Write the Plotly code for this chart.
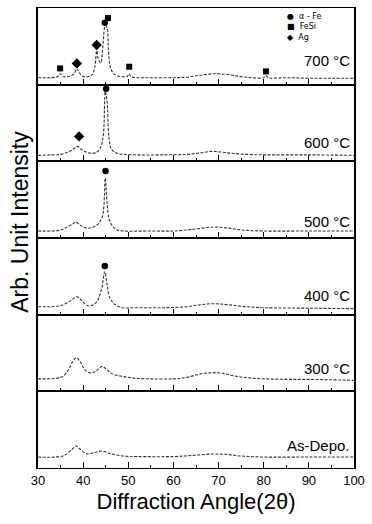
import plotly.graph_objects as go
from plotly.subplots import make_subplots

# ---- data (2theta, intensity in arbitrary units) ----
labels = ["700 °C", "600 °C", "500 °C", "400 °C", "300 °C", "As-Depo."]

x700 = [30, 33, 34.3, 35.0, 35.7, 37, 38.0, 38.6, 39.3, 40.2, 41, 42, 42.6, 43.0, 43.4, 43.9, 44.4, 44.9, 45.3, 45.6, 46.0, 46.6, 47.5, 49, 49.8, 50.2, 50.6, 52, 55, 60, 63, 66, 69.5, 73, 76, 80, 80.5, 81, 85, 90, 95, 100]
y700 = [7, 7, 8, 11, 8, 8.5, 11, 16, 11, 8, 8, 10, 18, 34, 25, 22, 40, 59, 57, 35, 18, 12, 9, 8, 8.5, 11, 8, 7, 7, 7, 7.5, 9.5, 11, 9.5, 7.5, 7, 9, 7, 7, 6.5, 6.5, 6.5]

x600 = [30, 33, 35, 36.5, 37.8, 38.7, 39.6, 40.8, 41.9, 43, 43.9, 44.5, 44.9, 45.3, 45.7, 46.3, 47.5, 49, 52, 58, 63, 66, 68.7, 72, 76, 80, 90, 100]
y600 = [6, 6.5, 7, 9, 12, 15, 12, 9, 8, 9, 14, 28, 70, 60, 25, 12, 8, 7, 6.5, 6.5, 7, 8.5, 10, 8.5, 7, 6.5, 6.5, 6]

x500 = [30, 33, 35, 36.5, 37.7, 38.4, 39.3, 40.7, 42, 43.3, 44.3, 44.9, 45.3, 45.8, 46.5, 47.5, 49, 55, 60, 64, 69, 72, 75, 80, 90, 100]
y500 = [7, 7, 8, 11, 14, 16, 13, 10, 10.5, 14, 22, 60, 35, 18, 12, 8, 7, 7, 7, 8.5, 11, 10, 8, 7, 7, 7]

x400 = [30, 33, 35, 36.5, 37.8, 38.6, 39.5, 40.3, 41.1, 42.3, 43.3, 44.1, 44.8, 45.3, 45.9, 47.1, 48.7, 52, 58, 63, 66, 69, 72, 76, 80, 90, 100]
y400 = [8, 8, 9, 12, 16, 18, 15, 11, 9, 10, 15, 26, 43, 30, 17, 10, 7, 7, 7, 8, 10, 11, 10, 8, 7, 6.5, 6]

x300 = [30, 34, 35.5, 36.8, 37.7, 38.5, 39.3, 40.3, 41.6, 42.8, 44.2, 45.2, 46.2, 47.5, 50, 52, 55, 60, 63, 66, 68.7, 71, 74, 78, 85, 90, 100]
y300 = [12.5, 13, 15, 22, 30, 33.7, 30, 22, 18.5, 20, 25, 22, 18, 16, 14, 13, 12.5, 12.5, 14, 17.5, 18.7, 18, 15, 13, 12, 12, 11]

xdep = [30, 34, 36, 37.6, 38.4, 39.3, 40.9, 42.5, 44.2, 46, 48.9, 52, 60, 64, 68.7, 72, 75, 80, 90, 100]
ydep = [11, 11, 13, 19, 22, 19, 14, 15.5, 17, 14.5, 12, 11.5, 11.5, 12.5, 14, 13.5, 12, 11, 11, 11]

curves = [(x700, y700), (x600, y600), (x500, y500), (x400, y400), (x300, y300), (xdep, ydep)]

# phase markers: (panel index, 2theta, intensity)
fe_pts = [(0, 44.8, 62), (1, 45.1, 72.7), (2, 44.95, 67), (3, 44.8, 48.7)]
fesi_pts = [(0, 34.9, 16.3), (0, 45.5, 66.7), (0, 50.2, 18), (0, 80.5, 13.3)]
ag_pts = [(0, 38.6, 21.3), (0, 43.0, 39.7), (1, 39.1, 25)]

legend_names = ["α - Fe", "FeSi", "Ag"]
legend_symbols = ["●", "■", "◆"]

label_y = [24, 19, 17, 19, 23, 23]

FONT = "Liberation Sans, Arial, Helvetica, sans-serif"
YMAX = 76.8
W, H = 372, 524
ML, MR, MT, MB = 38, 14, 7, 56
PW, PH = W - ML - MR, H - MT - MB

fig = make_subplots(rows=6, cols=1, shared_xaxes=True, vertical_spacing=0)

for i, (xs, ys) in enumerate(curves):
    fig.add_trace(go.Scatter(x=xs, y=ys, mode="lines", showlegend=False,
                             line=dict(color="#333333", width=1.1, dash="3px,1.5px"),
                             line_shape="spline", hoverinfo="skip"), row=i + 1, col=1)


def add_markers(pts, symbol, size, name):
    for p in range(6):
        sel = [q for q in pts if q[0] == p]
        if not sel:
            continue
        fig.add_trace(go.Scatter(x=[q[1] for q in sel], y=[q[2] for q in sel], mode="markers",
                                 marker=dict(symbol=symbol, size=size, color="black"),
                                 name=name, showlegend=False, cliponaxis=False), row=p + 1, col=1)


add_markers(fe_pts, "circle", 6.5, "α - Fe")
add_markers(fesi_pts, "square", 6, "FeSi")
add_markers(ag_pts, "diamond", 8, "Ag")

for i in range(6):
    xa = "xaxis" if i == 0 else f"xaxis{i + 1}"
    ya = "yaxis" if i == 0 else f"yaxis{i + 1}"
    fig.layout[xa].update(range=[30, 100], showline=True, mirror=True, linecolor="black", linewidth=1.1,
                          ticks="inside", ticklen=6, tickwidth=1.3, tickcolor="black", dtick=10, tick0=30,
                          minor=dict(dtick=5, ticklen=3, ticks="inside", tickcolor="black", tickwidth=1.2),
                          showgrid=False, zeroline=False,
                          showticklabels=(i == 5), tickfont=dict(size=13, color="black", family=FONT))
    fig.layout[ya].update(range=[0, YMAX], showline=True, mirror=True, linecolor="black", linewidth=1.5,
                          showticklabels=False, ticks="", showgrid=False, zeroline=False)
    fig.add_annotation(x=99.5, y=label_y[i], xref=xa.replace("axis", ""), yref=ya.replace("axis", ""),
                       text=labels[i], showarrow=False, xanchor="right", yanchor="middle",
                       font=dict(size=15, color="black", family=FONT))

fig.layout.xaxis6.title = dict(text="Diffraction Angle(2θ)", font=dict(size=22, color="black", family=FONT),
                               standoff=6)


def px_x(px):
    return (px - ML) / PW


def px_y(py):
    return (H - MB - py) / PH


fig.add_annotation(x=px_x(19), y=px_y(221), xref="paper", yref="paper", text="Arb. Unit Intensity",
                   textangle=-90, showarrow=False, xanchor="center", yanchor="middle",
                   font=dict(size=23, color="black", family=FONT))

# compact legend as a single text block (as in the reference)
legend_text = "<br>".join(f"{s}  {n}" for s, n in zip(legend_symbols, legend_names))
fig.add_annotation(x=px_x(289), y=px_y(10), xref="paper", yref="paper", text=legend_text,
                   showarrow=False, xanchor="left", yanchor="top", align="left", borderpad=0,
                   font=dict(size=8, color="black", family="DejaVu Sans"))

fig.update_layout(width=W, height=H, margin=dict(l=ML, r=MR, t=MT, b=MB),
                  paper_bgcolor="white", plot_bgcolor="white", showlegend=False)

fig.write_html("out.html", config={"displayModeBar": False},
               post_script="document.body.style.margin='0';document.body.style.padding='0';")
